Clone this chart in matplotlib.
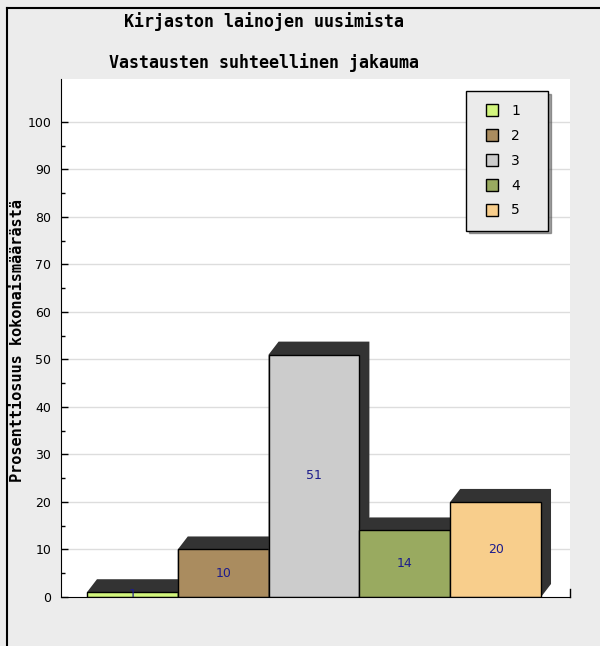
import matplotlib
matplotlib.use('Agg')
import matplotlib.pyplot as plt
from matplotlib.patches import Polygon
from matplotlib.lines import Line2D

# data: relative share of answers per option (percent)
categories = ['1', '2', '3', '4', '5']
values = [1, 10, 51, 14, 20]
colors = ['#D2F57D', '#AA8C5F', '#CCCCCC', '#99AA60', '#F8CE8C']

title1 = 'Kirjaston lainojen uusimista'
title2 = 'Vastausten suhteellinen jakauma'
ylabel = 'Prosenttiosuus kokonaismäärästä'

fig = plt.figure(figsize=(6.0, 6.46), dpi=100, facecolor='#ECECEC')
ax = fig.add_axes([61/600, 49/646, 509/600, 518/646])
ax.set_facecolor('white')

# frame lines of the image (top and left)
fig.add_artist(plt.Line2D([7/600, 1], [1 - 8/646, 1 - 8/646], color='black', lw=1.5))
fig.add_artist(plt.Line2D([7/600, 7/600], [0, 1 - 8/646], color='black', lw=1.5))

ax.set_xlim(-0.786, 4.819)
ax.set_ylim(0, 109)

ax.set_yticks(range(0, 101, 10))
ax.set_yticks(range(5, 101, 10), minor=True)
for y in range(10, 101, 10):
    ax.axhline(y, color='#DDDDDD', lw=1, zorder=0)

# extruded bars: dark shadow hull behind each bar
dx, dy = 0.11, 2.74
for i, v in enumerate(values):
    x0, x1 = i - 0.5, i + 0.5
    hull = Polygon([(x0, 0), (x1, 0), (x1 + dx, dy), (x1 + dx, v + dy),
                    (x0 + dx, v + dy), (x0, v)], closed=True,
                   facecolor='#333333', edgecolor='none', zorder=2 + i * 2)
    ax.add_patch(hull)
    ax.bar(i, v, width=1.0, color=colors[i], edgecolor='black', lw=1,
           zorder=3 + i * 2)
    ax.text(i, v / 2, str(v), ha='center', va='center', fontsize=9,
            color='#1C1C8C', zorder=20)

ax.spines['top'].set_visible(False)
ax.spines['right'].set_visible(False)
ax.spines['left'].set_zorder(30)
ax.spines['bottom'].set_zorder(30)
ax.set_xticks([])
ax.tick_params(axis='y', which='major', direction='in', length=5, pad=7,
               labelsize=9, width=1)
ax.tick_params(axis='y', which='minor', direction='in', length=3, width=1)
ax.plot([1, 1], [0, 8/518], transform=ax.transAxes, color='black', lw=1,
        clip_on=False)

fig.text(0.44, 1 - 22/646, title1, ha='center', va='center',
         family='DejaVu Sans Mono', weight='bold', fontsize=12)
fig.text(0.44, 1 - 63/646, title2, ha='center', va='center',
         family='DejaVu Sans Mono', weight='bold', fontsize=12)
fig.text(18/600, 1 - 341/646, ylabel, ha='center', va='center', rotation=90,
         family='DejaVu Sans Mono', weight='bold', fontsize=11)

# legend with square markers
handles = [Line2D([], [], linestyle='none', marker='s', markersize=8.5,
                  markerfacecolor=c, markeredgecolor='black',
                  markeredgewidth=1) for c in colors]
leg = ax.legend(handles, categories, loc='upper left',
                bbox_to_anchor=(0.7957, 0.7066, 0.161, 0.2704), mode='expand',
                borderaxespad=0, fancybox=False, shadow=True, framealpha=1,
                facecolor='#EBEBEB', edgecolor='black', fontsize=10,
                handlelength=1.8, labelspacing=0.78,
                borderpad=0.95, handletextpad=0.5)
leg.get_frame().set_linewidth(1)
leg.set_zorder(40)

fig.savefig('out.png', dpi=100, facecolor=fig.get_facecolor())
